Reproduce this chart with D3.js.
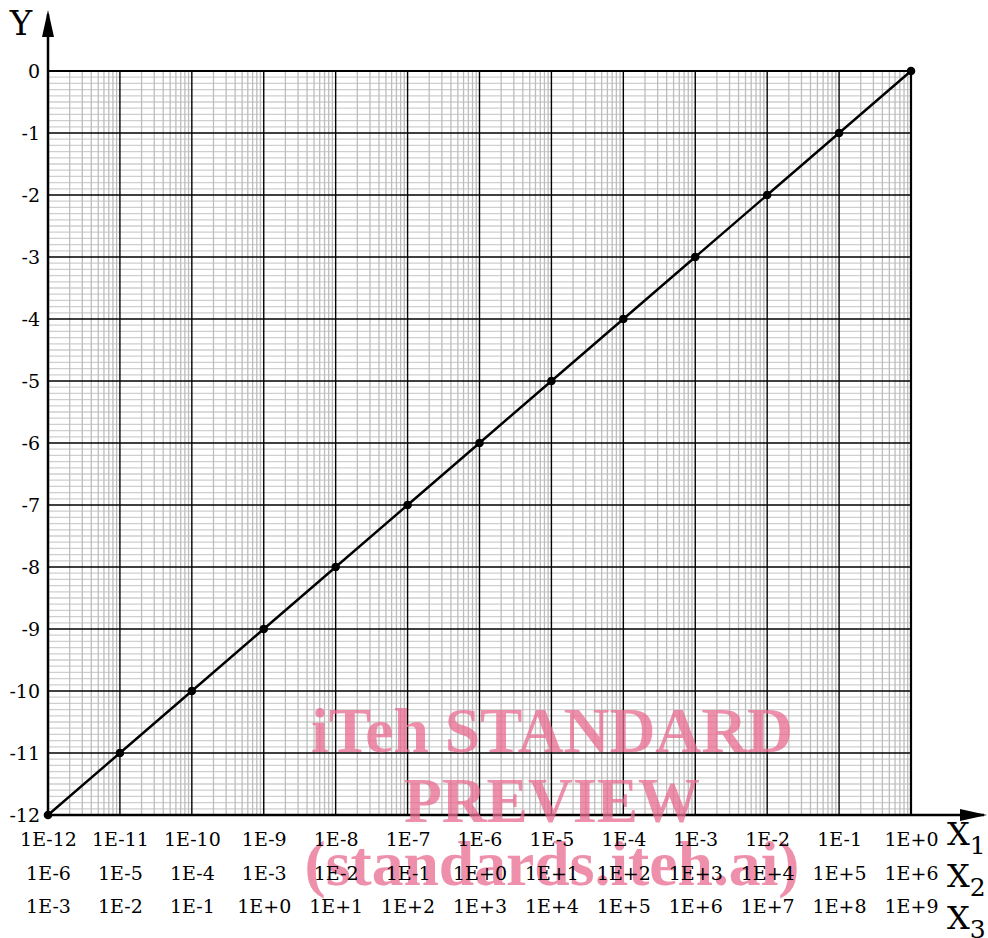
<!DOCTYPE html>
<html>
<head>
<meta charset="utf-8">
<script src="https://cdn.jsdelivr.net/npm/d3@7"></script>
<style>
  body { margin: 0; background: #fff; }
  svg { display: block; }
  .lbl text { font-family: "DejaVu Serif", serif; font-size: 19px; fill: #000; }
</style>
</head>
<body>
<svg id="chart"></svg>
<script>
// Data
const decades = [-12, -11, -10, -9, -8, -7, -6, -5, -4, -3, -2, -1, 0];
const yTicks = [0, -1, -2, -3, -4, -5, -6, -7, -8, -9, -10, -11, -12];
const x1Labels = ["1E-12", "1E-11", "1E-10", "1E-9", "1E-8", "1E-7", "1E-6", "1E-5", "1E-4", "1E-3", "1E-2", "1E-1", "1E+0"];
const x2Labels = ["1E-6", "1E-5", "1E-4", "1E-3", "1E-2", "1E-1", "1E+0", "1E+1", "1E+2", "1E+3", "1E+4", "1E+5", "1E+6"];
const x3Labels = ["1E-3", "1E-2", "1E-1", "1E+0", "1E+1", "1E+2", "1E+3", "1E+4", "1E+5", "1E+6", "1E+7", "1E+8", "1E+9"];
const pointX = [1e-12, 1e-11, 1e-10, 1e-9, 1e-8, 1e-7, 1e-6, 1e-5, 1e-4, 1e-3, 1e-2, 1e-1, 1e0];
const pointY = [-12, -11, -10, -9, -8, -7, -6, -5, -4, -3, -2, -1, 0];

const W = 988, H = 938;
const plot = { left: 48, right: 911, top: 71, bottom: 815 };

const svg = d3.select("#chart").attr("width", W).attr("height", H);

const x = d3.scaleLog().domain([1e-12, 1]).range([plot.left, plot.right]);
const y = d3.scaleLinear().domain([-12, 0]).range([plot.bottom, plot.top]);

const tickVals = decades.map(d => Math.pow(10, d));

// minor grid: horizontal every 0.1
const hMinor = d3.range(-120, 1).map(i => i / 10).filter(v => Math.abs(v - Math.round(v)) > 1e-9);
svg.append("g").selectAll("line").data(hMinor).enter().append("line")
  .attr("x1", plot.left).attr("x2", plot.right)
  .attr("y1", d => y(d)).attr("y2", d => y(d))
  .attr("stroke", "#cfcfcf").attr("stroke-width", 1.3);

// minor grid: vertical at 2..9 in each decade
const vMinor = [];
decades.slice(0, -1).forEach(k => {
  for (let m = 2; m <= 9; m++) vMinor.push(m * Math.pow(10, k));
});
svg.append("g").selectAll("line").data(vMinor).enter().append("line")
  .attr("x1", d => x(d)).attr("x2", d => x(d))
  .attr("y1", plot.top).attr("y2", plot.bottom)
  .attr("stroke", "#bdbdbd").attr("stroke-width", 1.3);

// major grid
svg.append("g").selectAll("line").data(yTicks).enter().append("line")
  .attr("x1", plot.left).attr("x2", plot.right)
  .attr("y1", d => y(d)).attr("y2", d => y(d))
  .attr("stroke", "#000").attr("stroke-width", d => d === 0 ? 2.2 : 1.4);
svg.append("g").selectAll("line").data(tickVals).enter().append("line")
  .attr("x1", d => x(d)).attr("x2", d => x(d))
  .attr("y1", plot.top).attr("y2", plot.bottom)
  .attr("stroke", "#000").attr("stroke-width", d => d === 1 ? 2.2 : 1.4);

// axes with arrows
svg.append("line")
  .attr("x1", plot.left).attr("x2", plot.left).attr("y1", plot.bottom).attr("y2", 14)
  .attr("stroke", "#000").attr("stroke-width", 2.5);
svg.append("path")
  .attr("d", `M${plot.left},10 L${plot.left - 6},37 L${plot.left + 6},37 Z`).attr("fill", "#000");
svg.append("line")
  .attr("x1", plot.left).attr("x2", 984).attr("y1", plot.bottom).attr("y2", plot.bottom)
  .attr("stroke", "#000").attr("stroke-width", 2.5);
svg.append("path")
  .attr("d", `M987,${plot.bottom} L960,${plot.bottom - 6} L960,${plot.bottom + 6} Z`).attr("fill", "#000");

// line and points
const line = d3.line().x((d, i) => x(pointX[i])).y((d, i) => y(pointY[i]));
svg.append("path").datum(pointY).attr("d", line)
  .attr("fill", "none").attr("stroke", "#000").attr("stroke-width", 2.4);
svg.append("g").selectAll("circle").data(pointY).enter().append("circle")
  .attr("cx", (d, i) => x(pointX[i])).attr("cy", d => y(d))
  .attr("r", 4.3).attr("fill", "#000");

// watermark
const wm = svg.append("g").attr("fill", "#e8698f").attr("fill-opacity", 0.75)
  .style("font-family", "\"Liberation Serif\", serif").style("font-weight", "bold")
  .attr("text-anchor", "middle");
wm.append("text").attr("x", 552).attr("y", 752).style("font-size", "64px")
  .attr("textLength", 482).attr("lengthAdjust", "spacingAndGlyphs").text("iTeh STANDARD");
wm.append("text").attr("x", 552).attr("y", 822).style("font-size", "64px")
  .attr("textLength", 296).attr("lengthAdjust", "spacingAndGlyphs").text("PREVIEW");
wm.append("text").attr("x", 552).attr("y", 885).style("font-size", "64px")
  .attr("textLength", 495).attr("lengthAdjust", "spacingAndGlyphs").text("(standards.iteh.ai)");

// y labels
const yAxis = svg.append("g").attr("class", "lbl")
  .attr("transform", `translate(${plot.left - 8},0)`)
  .call(d3.axisLeft(y).tickValues(yTicks).tickSize(0).tickFormat(d => String(d)));
yAxis.select(".domain").remove();
yAxis.selectAll("text").attr("x", 0).attr("dy", "0.35em");

// x label rows
function xRow(labels, yPos) {
  const g = svg.append("g").attr("class", "lbl")
    .attr("transform", `translate(0,${yPos})`)
    .call(d3.axisBottom(x).tickValues(tickVals).tickSize(0)
      .tickFormat((d, i) => labels[i]));
  g.select(".domain").remove();
  g.selectAll("text").attr("y", 0).attr("dy", 0);
}
xRow(x1Labels, 846);
xRow(x2Labels, 880);
xRow(x3Labels, 913);

// axis titles
const serif = "\"DejaVu Serif\", serif";
svg.append("text").attr("x", 21).attr("y", 35).attr("text-anchor", "middle")
  .style("font-family", serif).style("font-size", "34px").text("Y");
const xTitles = [["1", 845], ["2", 887], ["3", 929]];
xTitles.forEach(([s, yb]) => {
  const t = svg.append("text").attr("x", 947).attr("y", yb)
    .style("font-family", serif).style("font-size", "32px");
  t.append("tspan").text("X");
  t.append("tspan").attr("dy", 9).style("font-size", "25px").text(s);
});
</script>
</body>
</html>
